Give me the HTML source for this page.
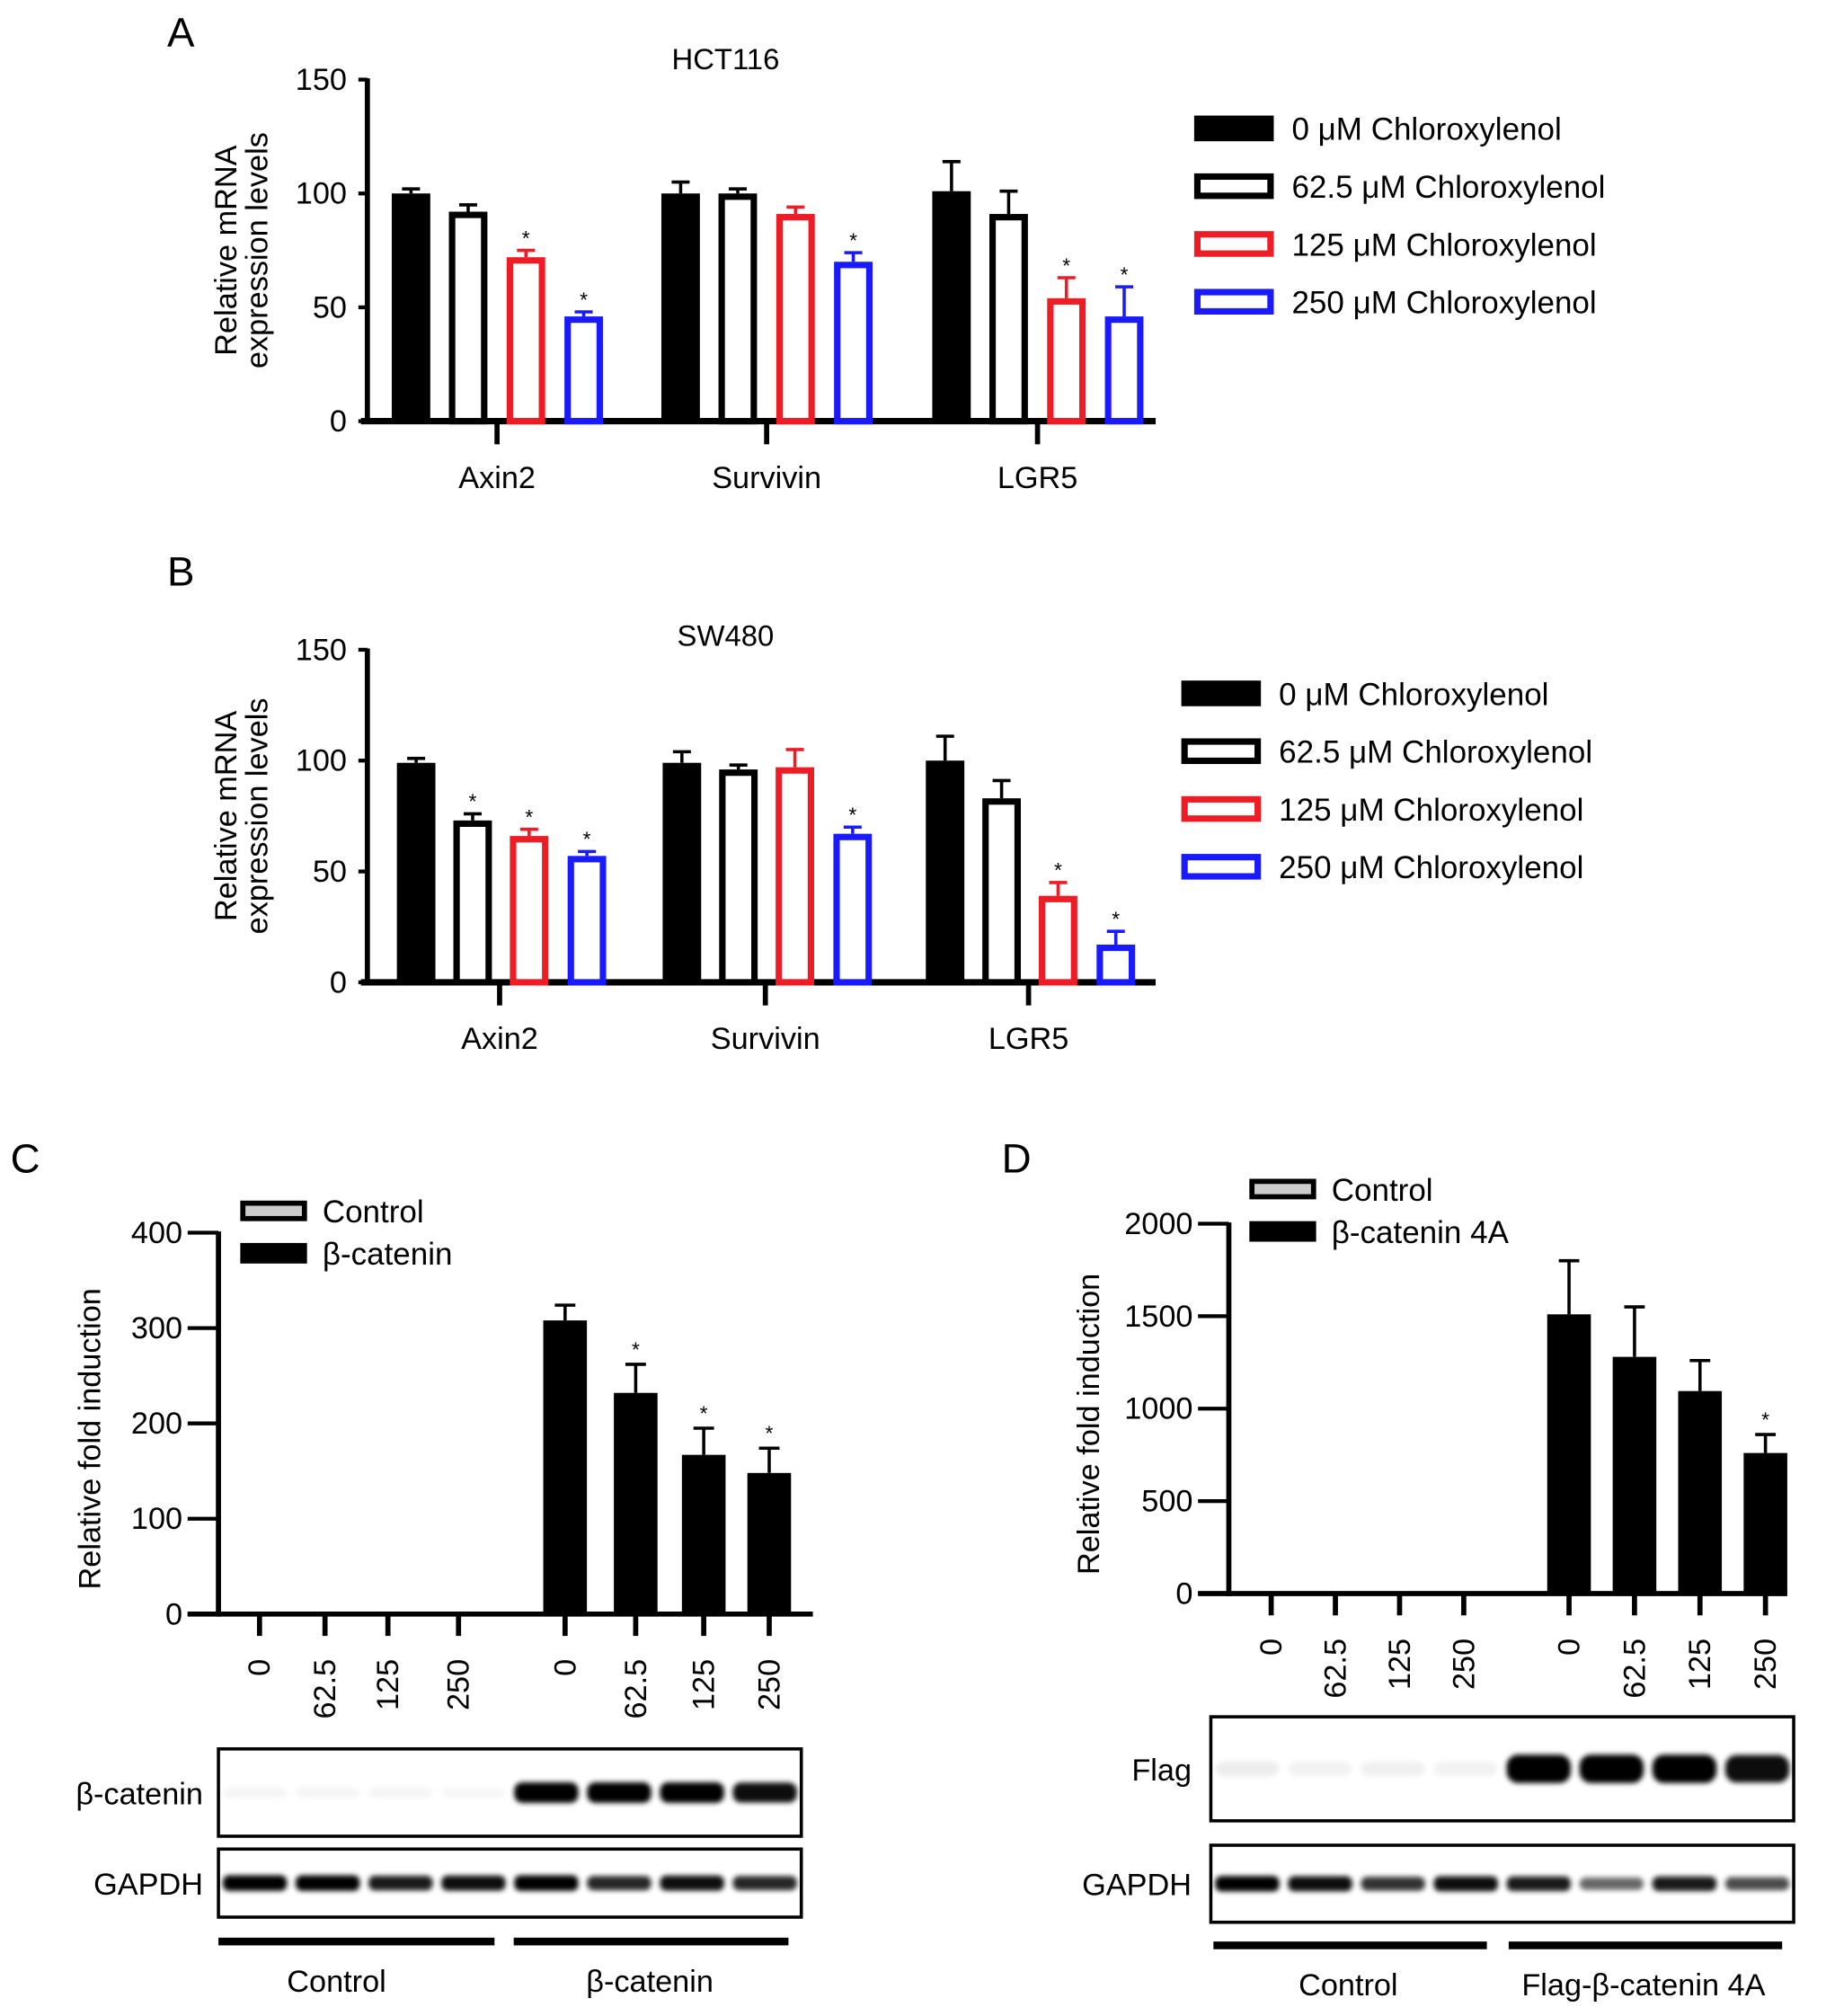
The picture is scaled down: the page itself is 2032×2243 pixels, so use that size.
<!DOCTYPE html>
<html><head><meta charset="utf-8"><style>
html,body{margin:0;padding:0;background:#fff;}
svg{display:block;font-family:"Liberation Sans",Arial,sans-serif;}
</style></head><body>
<svg id="fig" xmlns="http://www.w3.org/2000/svg" width="2032" height="2243" viewBox="0 0 1422 1570">
<defs><filter id="blur" x="-20%" y="-100%" width="140%" height="300%"><feGaussianBlur stdDeviation="2"/></filter></defs>
</svg>
<script>
// ---- data ----
const genes = ["Axin2","Survivin","LGR5"];
const doses = ["0 μM Chloroxylenol","62.5 μM Chloroxylenol","125 μM Chloroxylenol","250 μM Chloroxylenol"];
const aVals = [[100,92,72,46],[100,100,91,70],[101,91,54,46]];
const aErr  = [[2,3,3,2],[5,2,3,4],[13,10,9,13]];
const aStar = [[0,0,1,1],[0,0,0,1],[0,0,1,1]];
const bVals = [[99,73,66,57],[99,96,97,67],[100,83,39,17]];
const bErr  = [[2,3,3,2],[5,2,8,3],[11,8,6,6]];
const bStar = [[0,1,1,1],[0,0,0,1],[0,0,1,1]];
const yTicksAB = [0,50,100,150];
const cDoses = ["0","62.5","125","250"];
const cVals = [0,0,0,0,308,232,167,148];
const cErr  = [0,0,0,0,16,30,28,26];
const cStar = [0,0,0,0,0,1,1,1];
const cTicks = [0,100,200,300,400];
const dVals = [0,0,0,0,1510,1280,1095,760];
const dErr  = [0,0,0,0,290,270,165,100];
const dStar = [0,0,0,0,0,0,0,1];
const dTicks = [0,500,1000,1500,2000];

const svg=document.getElementById('fig');
const NS="http://www.w3.org/2000/svg";
function el(tag,attrs,parent,text){const e=document.createElementNS(NS,tag);for(const k in attrs)e.setAttribute(k,attrs[k]);if(text!==undefined)e.textContent=text;(parent||svg).appendChild(e);return e;}
function grp(name){const g=el('g',{});


return g;}

const colors=["#000","#000","#ee1c24","#1a1aff"];
const FS=24;

function panelAB(name,title,titleY,vals,errs,stars,yTop,yZero,centers,offs,legX,legY,bw){
  const g=grp(name);
  const y=v=>yZero-(v/150)*(yZero-yTop);
  el('text',{x:565,y:titleY,'font-size':23,'text-anchor':'middle'},g,title);
  el('line',{x1:286,y1:yTop-1,x2:286,y2:yZero+2,stroke:'#000','stroke-width':4},g);
  el('line',{x1:281,y1:yZero,x2:900,y2:yZero,stroke:'#000','stroke-width':5},g);
  yTicksAB.forEach(t=>{el('line',{x1:279,y1:y(t),x2:286,y2:y(t),stroke:'#000','stroke-width':3},g);
    el('text',{x:270,y:y(t)+8,'font-size':FS,'text-anchor':'end'},g,t);});
  const yl=el('text',{transform:`translate(184,${(yTop+yZero)/2}) rotate(-90)`,'font-size':FS,'text-anchor':'middle'},g);
  el('tspan',{x:0,dy:0},yl,'Relative mRNA');el('tspan',{x:0,dy:24},yl,'expression levels');
  genes.forEach((gn,i)=>{
    el('line',{x1:centers[i],y1:yZero,x2:centers[i],y2:yZero+18,stroke:'#000','stroke-width':4},g);
    el('text',{x:centers[i],y:yZero+52,'font-size':FS,'text-anchor':'middle'},g,gn);
    vals[i].forEach((v,j)=>{
      const cx=centers[i]+offs[j];const top=y(v);const et=y(v+errs[i][j]);
      el('line',{x1:cx,y1:top,x2:cx,y2:et,stroke:colors[j],'stroke-width':2.5},g);
      el('line',{x1:cx-7,y1:et,x2:cx+7,y2:et,stroke:colors[j],'stroke-width':2.5},g);
      const r=j===0?el('rect',{x:cx-bw/2,y:top,width:bw,height:yZero-top,fill:'#000'},g)
                   :el('rect',{x:cx-bw/2+2.5,y:top+2.5,width:bw-5,height:yZero-top-2.5,fill:'#fff',stroke:colors[j],'stroke-width':5},g);
      
      
      if(stars[i][j])el('text',{x:cx,y:et-4,'font-size':16,'text-anchor':'middle'},g,'*');
    });
  });
  doses.forEach((d,j)=>{
    const ly=legY+j*45;
    const lr=j===0?el('rect',{x:legX,y:ly-10,width:62,height:20,fill:'#000'},g)
                  :el('rect',{x:legX+2.5,y:ly-7.5,width:57,height:15,fill:'#fff',stroke:colors[j],'stroke-width':5},g);
    
    
    el('text',{x:legX+76,y:ly+9,'font-size':24.5},g,d);
  });
}
el('text',{x:130,y:36,'font-size':32},svg,'A');
panelAB('panel-a-hct116','HCT116',54,aVals,aErr,aStar,62,328,[387,597,808],[-67,-22.5,22.5,67.5],930,100,30);
el('text',{x:130,y:456,'font-size':32},svg,'B');
panelAB('panel-b-sw480','SW480',503,bVals,bErr,bStar,506,765,[389,596,801],[-65,-21,23,68],920,540,30);

function panelCD(name,vals,errs,stars,ticks,max,ax,yTop,yZero,xEnd,xs,legX,legY,legLabels,ylx){
  const g=grp(name);
  const y=v=>yZero-(v/max)*(yZero-yTop);
  el('line',{x1:ax,y1:yTop-1,x2:ax,y2:yZero+2,stroke:'#000','stroke-width':4},g);
  el('line',{x1:ax-24,y1:yZero,x2:xEnd,y2:yZero,stroke:'#000','stroke-width':4},g);
  ticks.forEach(t=>{el('line',{x1:ax-24,y1:y(t),x2:ax,y2:y(t),stroke:'#000','stroke-width':3},g);
    el('text',{x:ax-28,y:y(t)+8,'font-size':FS,'text-anchor':'end'},g,t);});
  el('text',{transform:`translate(${ylx},${(yTop+yZero)/2+12}) rotate(-90)`,'font-size':FS,'text-anchor':'middle'},g,'Relative fold induction');
  xs.forEach((cx,i)=>{
    el('line',{x1:cx,y1:yZero,x2:cx,y2:yZero+17,stroke:'#000','stroke-width':4},g);
    el('text',{transform:`translate(${cx+8},${yZero+35}) rotate(-90)`,'font-size':FS,'text-anchor':'end'},g,cDoses[i%4]);
    const v=vals[i];
    if(v>0){const top=y(v),et=y(v+errs[i]);
      el('line',{x1:cx,y1:top,x2:cx,y2:et,stroke:'#000','stroke-width':2.5},g);
      el('line',{x1:cx-8,y1:et,x2:cx+8,y2:et,stroke:'#000','stroke-width':2.5},g);
      const r=el('rect',{x:cx-17,y:top,width:34,height:yZero-top,fill:'#000'},g);
      
      
      if(stars[i])el('text',{x:cx,y:et-6,'font-size':16,'text-anchor':'middle'},g,'*');}
  });
  el('rect',{x:legX+2,y:legY-6,width:48,height:12,fill:'#ccc',stroke:'#000','stroke-width':4},g);
  el('rect',{x:legX,y:legY+25,width:52,height:16,fill:'#000'},g);
  el('text',{x:legX+64,y:legY+9,'font-size':24.5},g,legLabels[0]);
  el('text',{x:legX+64,y:legY+42,'font-size':24.5},g,legLabels[1]);
}
el('text',{x:8,y:913,'font-size':32},svg,'C');
panelCD('panel-c-luciferase',cVals,cErr,cStar,cTicks,400,170,960,1257,633,[202,253,302,357,440,495,548,599],187,943,['Control','β-catenin'],78);
el('text',{x:780,y:913,'font-size':32},svg,'D');
panelCD('panel-d-luciferase',dVals,dErr,dStar,dTicks,2000,957,953,1241,1392,[990,1040,1090,1140,1222,1273,1324,1375],973,926,['Control','β-catenin 4A'],856);

// western blots
const cTopBand=[0.04,0.04,0.04,0.03,1,1,1,0.95];
const cGapdh=[1,1,0.9,0.95,1,0.85,0.95,0.85];
const dTopBand=[0.07,0.05,0.06,0.05,1,1,1,0.95];
const dGapdh=[1,0.95,0.8,0.95,0.9,0.6,0.9,0.7];
function blot(name,label,x,yb,w,h,lanes,inten,bandH,labelX){
  const g=grp(name);
  el('rect',{x:x,y:yb,width:w,height:h,fill:'#fff',stroke:'#000','stroke-width':2.5},g);
  const lw=w/8;
  inten.forEach((a,i)=>{
    el('rect',{x:x+lw*(i+0.5)-lw*0.44,y:yb+h/2-bandH*(0.5+0.5*a),width:lw*0.88,height:2*bandH*(0.5+0.5*a),rx:bandH*0.8,fill:'#000','fill-opacity':a,filter:'url(#blur)'},g);
  });
  el('text',{x:labelX,y:yb+h/2+9,'font-size':FS,'text-anchor':'end'},g,label);
}
blot('blot-c-beta-catenin','β-catenin',170,1362,454,68,8,cTopBand,8,158);
blot('blot-c-gapdh','GAPDH',170,1440,454,53,8,cGapdh,6,158);
blot('blot-d-flag','Flag',943,1337,454,81,8,dTopBand,11,928);
blot('blot-d-gapdh','GAPDH',943,1437,454,60,8,dGapdh,6,928);
const gl=grp('group-labels');
el('rect',{x:170,y:1509,width:215,height:6,fill:'#000'},gl);
el('rect',{x:400,y:1509,width:214,height:6,fill:'#000'},gl);
el('text',{x:262,y:1551,'font-size':FS,'text-anchor':'middle'},gl,'Control');
el('text',{x:506,y:1551,'font-size':FS,'text-anchor':'middle'},gl,'β-catenin');
el('rect',{x:945,y:1512,width:213,height:6,fill:'#000'},gl);
el('rect',{x:1175,y:1512,width:213,height:6,fill:'#000'},gl);
el('text',{x:1050,y:1554,'font-size':FS,'text-anchor':'middle'},gl,'Control');
el('text',{x:1280,y:1554,'font-size':FS,'text-anchor':'middle'},gl,'Flag-β-catenin 4A');
</script>
</body></html>
